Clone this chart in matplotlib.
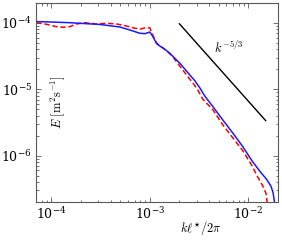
import numpy as np
import matplotlib
matplotlib.use('Agg')
import matplotlib.pyplot as plt

plt.rcParams['mathtext.fontset'] = 'cm'
plt.rcParams['font.family'] = 'serif'
plt.rcParams['font.serif'] = ['DejaVu Serif']

# spectrum 1 (blue, solid)
k_blue = [6.97e-5, 9.66e-5, 1.54e-4, 3.11e-4, 4.95e-4, 6.26e-4, 7.91e-4, 8.89e-4,
          1.00e-3, 1.07e-3, 1.17e-3, 1.26e-3, 1.42e-3, 1.60e-3, 1.79e-3, 2.02e-3,
          2.27e-3, 2.55e-3, 2.86e-3, 3.22e-3, 3.61e-3, 4.37e-3, 5.51e-3, 6.96e-3,
          8.80e-3, 1.08e-2, 1.31e-2, 1.53e-2, 1.69e-2, 1.78e-2, 1.84e-2, 1.87e-2]
E_blue = [1.05e-4, 1.035e-4, 1.01e-4, 9.5e-5, 8.7e-5, 7.84e-5, 7.0e-5, 6.9e-5,
          7.3e-5, 6.3e-5, 4.9e-5, 4.50e-5, 4.01e-5, 3.49e-5, 2.94e-5, 2.47e-5,
          2.01e-5, 1.64e-5, 1.35e-5, 1.05e-5, 7.93e-6, 5.47e-6, 3.44e-6, 2.19e-6,
          1.36e-6, 8.5e-7, 5.8e-7, 4.4e-7, 3.5e-7, 2.8e-7, 2.0e-7, 1.5e-7]

# spectrum 2 (red, dashed)
k_red = [7.07e-5, 8.93e-5, 1.13e-4, 1.32e-4, 1.54e-4, 1.80e-4, 2.19e-4, 2.88e-4,
         3.63e-4, 4.59e-4, 5.80e-4, 7.04e-4, 8.10e-4, 9.30e-4, 1.00e-3, 1.07e-3,
         1.17e-3, 1.36e-3, 1.52e-3, 1.71e-3, 1.92e-3, 2.16e-3, 2.43e-3, 2.74e-3,
         3.07e-3, 3.45e-3, 4.37e-3, 5.51e-3, 6.96e-3, 8.80e-3, 1.08e-2, 1.24e-2,
         1.40e-2, 1.51e-2, 1.58e-2]
E_red = [1.01e-4, 9.56e-5, 8.79e-5, 8.61e-5, 8.79e-5, 9.66e-5, 1.01e-4, 9.66e-5,
         9.9e-5, 9.66e-5, 9.0e-5, 8.32e-5, 8.12e-5, 8.6e-5, 8.4e-5, 6.6e-5,
         5.0e-5, 4.2e-5, 3.69e-5, 3.10e-5, 2.47e-5, 1.95e-5, 1.55e-5, 1.24e-5,
         9.75e-6, 7.1e-6, 4.9e-6, 2.9e-6, 1.85e-6, 1.18e-6, 7.2e-7, 4.8e-7,
         3.5e-7, 2.7e-7, 1.6e-7]

# k^-5/3 reference line
k_ref = [2.0e-3, 1.5e-2]
E_ref = [9.7e-5, 3.37e-6]

fig = plt.figure(figsize=(2.82, 2.41), dpi=100)
ax = fig.add_axes([36/282, 39/241, 242/282, 199/241])

ax.plot(k_ref, E_ref, color='black', lw=1.0)
ax.plot(k_red, E_red, color='red', lw=1.1, dashes=(3.5, 1.8))
ax.plot(k_blue, E_blue, color='#1a1aff', lw=1.1)

ax.set_xscale('log')
ax.set_yscale('log')
ax.set_xlim(7e-5, 2e-2)
ax.set_ylim(2e-7, 2e-4)

ax.text(6.4e-3, 4.3e-5, r'$k^{-5/3}$', fontsize=9, ha='center', va='center')

ax.set_xlabel(r'$k\ell^{\star}/2\pi$', fontsize=9)
ax.xaxis.set_label_coords(0.68, -0.085)
ax.set_ylabel(r'$E\ [\mathrm{m^2 s^{-1}}]$', fontsize=9)
ax.yaxis.set_label_coords(0.13, 0.5)

ax.tick_params(which='both', direction='in', top=True, right=True,
               labelsize=9, color='0.35', width=0.6)
ax.tick_params(which='major', length=3.5, pad=3)
ax.tick_params(which='minor', length=1.8)
for s in ax.spines.values():
    s.set_color('0.35')
    s.set_linewidth(0.8)

fig.savefig('out.png', dpi=100)
